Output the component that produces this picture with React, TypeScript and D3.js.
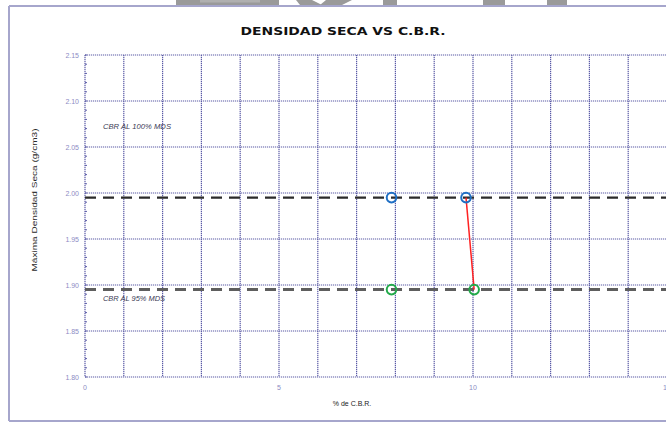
import React from "react";
import * as d3 from "d3";

const W = 666;
const H = 422;

const chartTitle = "DENSIDAD SECA VS C.B.R.";
const xLabel = "% de C.B.R.";
const yLabel = "Máxima Densidad Seca (g/cm3)";
const xDomain = [0, 15];
const yDomain = [1.8, 2.15];
const xTickLabels = [0, 5, 10, 15];
const xGrid = d3.range(0, 16, 1);
const yTicks = [1.8, 1.85, 1.9, 1.95, 2.0, 2.05, 2.1, 2.15];
const yMinor = d3.range(1.8, 2.1501, 0.01);

const refLabels = ["CBR AL 100% MDS", "CBR AL 95% MDS"];
const refValues = [1.995, 1.895];
const refLabelY = [2.072, 1.885];

const cbr100 = [7.9, 9.82];
const cbr95 = [7.9, 10.03];
const interpX = [9.82, 10.03];
const interpY = [1.995, 1.895];

export default function App() {
  const x = d3.scaleLinear().domain(xDomain).range([85, 667]);
  const y = d3.scaleLinear().domain(yDomain).range([377, 55]);
  const fmt = d3.format(".2f");
  const line = d3
    .line<number>()
    .x((d) => x(interpX[d]))
    .y((d) => y(interpY[d]));

  const gridColor = "#5a5aa6";
  const tickColor = "#8c8cc4";

  return (
    <svg
      width={W}
      height={H}
      style={{ position: "absolute", left: 0, top: 0, background: "#fff" }}
    >
      {/* watermark fragments at top */}
      <g fill="#9a9a9a">
        <rect x={176} y={0} width={103} height={5} />
        <rect x={200} y={0} width={60} height={2.5} fill="#b0b0b0" />
        <polygon points="296,0 312,0 322,5 300,5" />
        <polygon points="326,0 352,0 342,5 320,5" />
        <rect x={383} y={0} width={14} height={5} />
        <rect x={483} y={0} width={22} height={5} />
        <rect x={547} y={0} width={20} height={5} />
      </g>

      {/* outer frame */}
      <g stroke="#a6a6cc" strokeWidth={2} fill="none">
        <line x1={9} y1={6} x2={W} y2={6} />
        <line x1={9} y1={6} x2={9} y2={421} />
        <line x1={9} y1={421} x2={W} y2={421} />
      </g>

      {/* title */}
      <text
        x={343}
        y={35}
        textAnchor="middle"
        fontFamily="DejaVu Sans"
        fontWeight="bold"
        fontSize={10}
        textLength={205}
        lengthAdjust="spacingAndGlyphs"
        fill="#111"
      >
        {chartTitle}
      </text>

      {/* grid */}
      <g stroke={gridColor} strokeWidth={1.2} strokeDasharray="1.2 0.8" fill="none">
        {xGrid.map((v) => (
          <line key={"gx" + v} x1={x(v)} x2={x(v)} y1={y(yDomain[1])} y2={y(yDomain[0])} />
        ))}
        {yTicks.map((v) => (
          <line key={"gy" + v} x1={x(0)} x2={x(15)} y1={y(v)} y2={y(v)} />
        ))}
      </g>
      {/* minor ticks on y axis */}
      <g stroke={gridColor} strokeWidth={1}>
        {yMinor.map((v, i) => (
          <line key={"m" + i} x1={x(0)} x2={x(0) + 2} y1={y(v)} y2={y(v)} />
        ))}
      </g>

      {/* y tick labels */}
      <g fontFamily="Liberation Sans, Arial" fontSize={7} fill={tickColor} textAnchor="end">
        {yTicks.map((v) => (
          <text key={"ly" + v} x={79} y={y(v) + 2.5}>
            {fmt(v)}
          </text>
        ))}
      </g>
      {/* x tick labels */}
      <g fontFamily="Liberation Sans, Arial" fontSize={7} fill={tickColor} textAnchor="middle">
        {xTickLabels.map((v) => (
          <text key={"lx" + v} x={x(v)} y={390}>
            {v}
          </text>
        ))}
      </g>

      {/* axis titles */}
      <text
        x={352}
        y={406}
        textAnchor="middle"
        fontFamily="Liberation Sans, Arial"
        fontSize={7}
        fill="#222"
      >
        {xLabel}
      </text>
      <text
        transform={`translate(37,${200}) rotate(-90)`}
        textAnchor="middle"
        fontFamily="Liberation Sans, Arial"
        fontSize={7}
        fill="#2a2a2a"
        textLength={143}
        lengthAdjust="spacingAndGlyphs"
      >
        {yLabel}
      </text>

      {/* reference dashed lines */}
      {refValues.map((v, i) => (
        <line
          key={"ref" + i}
          x1={x(0)}
          x2={x(15)}
          y1={y(v)}
          y2={y(v)}
          stroke={i === 0 ? "#2b2b2b" : "#5e5e5e"}
          strokeWidth={i === 0 ? 2.2 : 3}
          strokeDasharray="11 7"
        />
      ))}
      {refLabels.map((t, i) => (
        <text
          key={"rl" + i}
          x={103}
          y={y(refLabelY[i]) + 2.5}
          fontFamily="Liberation Sans Narrow, Liberation Sans, Arial"
          fontStyle="italic"
          fontSize={7.5}
          fill="#3b3b55"
          textLength={i === 0 ? 68 : 62}
          lengthAdjust="spacingAndGlyphs"
        >
          {t}
        </text>
      ))}

      {/* interpolation line */}
      <path d={line([0, 1]) ?? ""} stroke="#ff2222" strokeWidth={1.5} fill="none" />

      {/* points */}
      {cbr100.map((v, i) => (
        <circle
          key={"b" + i}
          cx={x(v)}
          cy={y(refValues[0])}
          r={4.8}
          fill="none"
          stroke="#1f6fc4"
          strokeWidth={2}
        />
      ))}
      {cbr95.map((v, i) => (
        <circle
          key={"g" + i}
          cx={x(v)}
          cy={y(refValues[1])}
          r={4.8}
          fill="none"
          stroke="#22aa4a"
          strokeWidth={2}
        />
      ))}
    </svg>
  );
}
